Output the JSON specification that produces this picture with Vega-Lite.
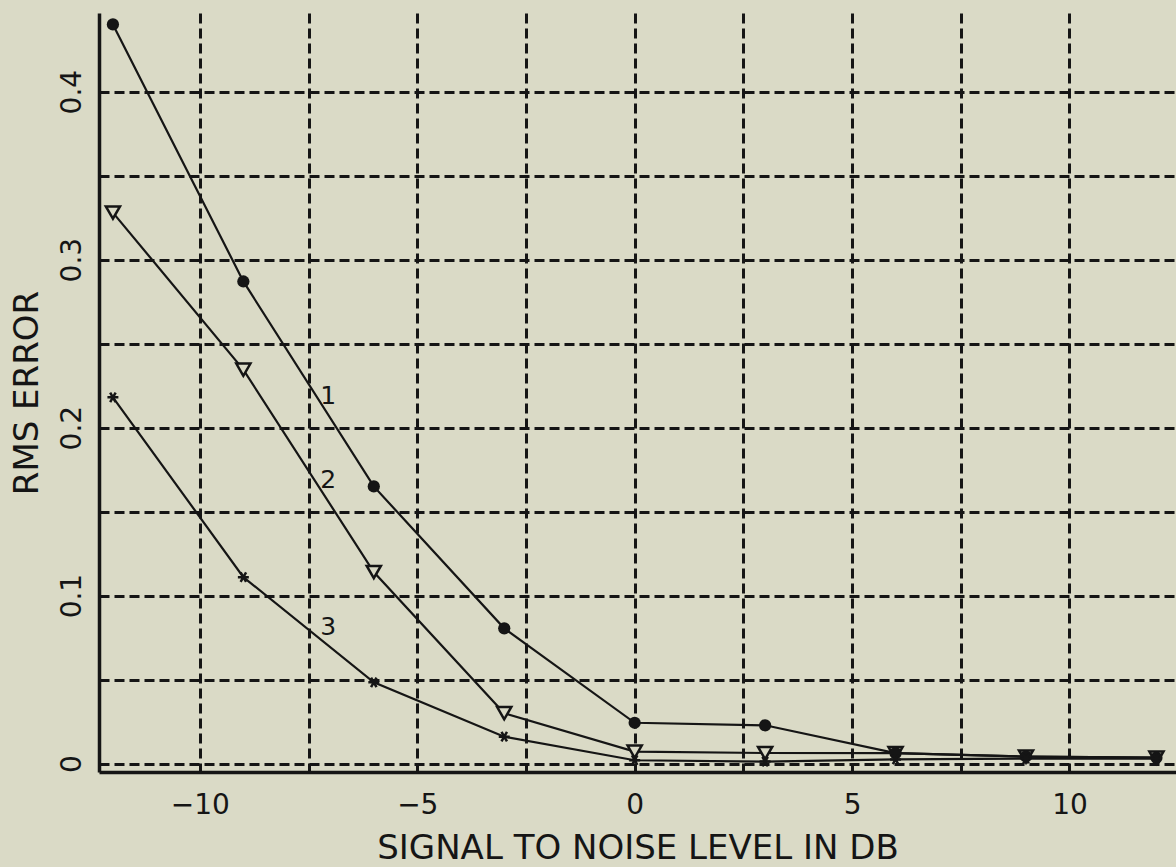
{
  "$schema": "https://vega.github.io/schema/vega-lite/v6.json",
  "autosize": {"type": "none"},
  "padding": {"left": 99, "top": 13, "right": 0, "bottom": 95},
  "width": 1077,
  "height": 759,
  "background": "#dadac6",
  "config": {"view": {"stroke": null}, "font": "DejaVu Sans"},
  "datasets": {
    "curves": [
      {"curve": 1, "snr": -12, "rms": 0.440},
      {"curve": 1, "snr": -9, "rms": 0.287},
      {"curve": 1, "snr": -6, "rms": 0.165},
      {"curve": 1, "snr": -3, "rms": 0.0805},
      {"curve": 1, "snr": 0, "rms": 0.0243},
      {"curve": 1, "snr": 3, "rms": 0.0228},
      {"curve": 1, "snr": 6, "rms": 0.0062},
      {"curve": 1, "snr": 9, "rms": 0.0042},
      {"curve": 1, "snr": 12, "rms": 0.0035},
      {"curve": 2, "snr": -12, "rms": 0.328},
      {"curve": 2, "snr": -9, "rms": 0.2345},
      {"curve": 2, "snr": -6, "rms": 0.114},
      {"curve": 2, "snr": -3, "rms": 0.030},
      {"curve": 2, "snr": 0, "rms": 0.0071},
      {"curve": 2, "snr": 3, "rms": 0.0063},
      {"curve": 2, "snr": 6, "rms": 0.0062},
      {"curve": 2, "snr": 9, "rms": 0.0042},
      {"curve": 2, "snr": 12, "rms": 0.0035},
      {"curve": 3, "snr": -12, "rms": 0.218},
      {"curve": 3, "snr": -9, "rms": 0.111},
      {"curve": 3, "snr": -6, "rms": 0.0484},
      {"curve": 3, "snr": -3, "rms": 0.016},
      {"curve": 3, "snr": 0, "rms": 0.002},
      {"curve": 3, "snr": 3, "rms": 0.0012},
      {"curve": 3, "snr": 6, "rms": 0.0025},
      {"curve": 3, "snr": 9, "rms": 0.003},
      {"curve": 3, "snr": 12, "rms": 0.003}
    ],
    "labels": [
      {"snr": -7.05, "rms": 0.2186, "label": "1"},
      {"snr": -7.05, "rms": 0.169, "label": "2"},
      {"snr": -7.05, "rms": 0.0811, "label": "3"}
    ]
  },
  "encoding": {
    "x": {
      "field": "snr",
      "type": "quantitative",
      "scale": {"domain": [-12.32, 12.45], "nice": false, "zero": false},
      "axis": {
        "values": [-10, -7.5, -5, -2.5, 0, 2.5, 5, 7.5, 10],
        "labelExpr": "datum.value % 5 == 0 ? datum.label : ''",
        "title": "SIGNAL TO NOISE LEVEL IN DB",
        "grid": true,
        "gridDash": [10, 5],
        "gridColor": "#151515",
        "gridWidth": 3,
        "gridOpacity": 1,
        "domainColor": "#151515",
        "domainWidth": 3.5,
        "ticks": false,
        "labelPadding": 19,
        "labelFontSize": 28,
        "labelFont": "DejaVu Sans",
        "labelColor": "#151515",
        "labelOverlap": false,
        "labelFlush": false,
        "titleFont": "DejaVu Sans",
        "titleFontSize": 34,
        "titleFontWeight": "normal",
        "titleColor": "#151515",
        "titlePadding": 12
      }
    },
    "y": {
      "field": "rms",
      "type": "quantitative",
      "scale": {"domain": [-0.005, 0.4468], "nice": false, "zero": false},
      "axis": {
        "values": [0, 0.05, 0.1, 0.15, 0.2, 0.25, 0.3, 0.35, 0.4],
        "format": ".2~f",
        "labelExpr": "round(datum.value * 100) % 10 == 0 ? datum.label : ''",
        "title": "RMS ERROR",
        "grid": true,
        "gridDash": [10, 5],
        "gridColor": "#151515",
        "gridWidth": 3,
        "gridOpacity": 1,
        "domainColor": "#151515",
        "domainWidth": 3.5,
        "ticks": false,
        "labelAngle": -90,
        "labelAlign": "center",
        "labelBaseline": "bottom",
        "labelPadding": 13,
        "labelFontSize": 28,
        "labelFont": "DejaVu Sans",
        "labelColor": "#151515",
        "labelOverlap": false,
        "labelFlush": false,
        "titleFont": "DejaVu Sans",
        "titleFontSize": 34,
        "titleFontWeight": "normal",
        "titleColor": "#151515",
        "titlePadding": 14
      }
    }
  },
  "layer": [
    {
      "data": {"name": "curves"},
      "mark": {"type": "line", "color": "#151515", "strokeWidth": 2.2, "interpolate": "linear"},
      "encoding": {"detail": {"field": "curve", "type": "nominal"}}
    },
    {
      "data": {"name": "curves"},
      "transform": [{"filter": "datum.curve == 2"}],
      "mark": {"type": "point", "shape": "triangle-down", "filled": true, "fill": "#dadac6", "stroke": "#151515", "strokeWidth": 2.5, "size": 200, "opacity": 1}
    },
    {
      "data": {"name": "curves"},
      "transform": [{"filter": "datum.curve == 1"}],
      "mark": {"type": "circle", "color": "#151515", "size": 150, "opacity": 1}
    },
    {
      "data": {"name": "curves"},
      "transform": [{"filter": "datum.curve == 3"}],
      "mark": {"type": "point", "shape": "M-1,0L1,0M-0.5,-0.866L0.5,0.866M-0.5,0.866L0.5,-0.866", "filled": false, "stroke": "#151515", "strokeWidth": 2.5, "size": 120, "opacity": 1}
    },
    {
      "data": {"name": "labels"},
      "mark": {"type": "text", "font": "DejaVu Sans", "fontSize": 25, "color": "#151515", "align": "center", "baseline": "middle"},
      "encoding": {"text": {"field": "label", "type": "nominal"}}
    }
  ]
}
